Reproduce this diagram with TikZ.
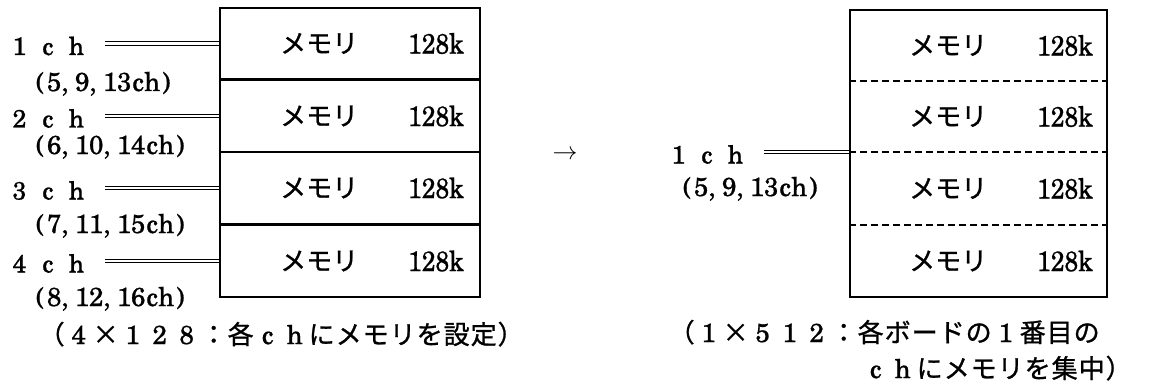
\documentclass[tikz,border=0pt]{standalone}
\usepackage{fontspec}
\usepackage{graphicx}
\newfontfamily\jpf{Noto Sans CJK JP}[FakeBold=1]
\newfontfamily\sch{texgyreschola}[Extension=.otf, UprightFont=*-regular, BoldFont=*-bold, FakeBold=0.8]
\newlength\cw
\newcommand\cL[1]{\makebox[\cw][c]{\sch #1}}
\newcommand\cC[1]{\makebox[\cw][l]{\sch #1}}
\newcommand\cJ[1]{\makebox[\cw][c]{\jpf #1}}
\newcommand\mem{{\jpf メモリ}}
\newcommand\kb{\scalebox{0.88}[1]{\sch 128k}}
\begin{document}
\begin{tikzpicture}[x=1pt,y=-1pt,
  membox/.style={draw, line width=1.4pt, minimum width=260pt, inner sep=0pt},
  dbl/.style={double, double distance=2.2pt, line width=1.2pt},
  sepline/.style={dash pattern=on 7pt off 4pt, line width=1.2pt},
  chlab/.style={anchor=base west, inner sep=0pt, font={\fontsize{25}{25}\selectfont\setlength\cw{28.5pt}}},
  sublab/.style={anchor=base west, inner sep=0pt, font={\fontsize{26}{26}\selectfont\setlength\cw{14pt}}},
  caplab/.style={anchor=base west, inner sep=0pt, font={\fontsize{26}{26}\selectfont\setlength\cw{27pt}}},
  memt/.style={anchor=west, inner sep=0pt, font={\fontsize{26}{26}\selectfont}},
  kbt/.style={anchor=east, inner sep=0pt, font={\fontsize{28}{28}\selectfont}},
]
\useasboundingbox (0,0) rectangle (1153,385);

% ---- left: four boards
\node[membox, minimum height=71pt] (L1) at (350,43.5) {};
\node[membox, minimum height=72pt] (L2) at (350,116) {};
\node[membox, minimum height=71pt] (L3) at (350,188) {};
\node[membox, minimum height=72pt] (L4) at (350,261) {};
\foreach \i/\y in {1/43.5,2/116,3/188,4/261}{
  \node[memt] (Lm\i) at (280,\y) {\mem};
  \node[kbt] (Lk\i) at (464,\y) {\kb};
}

\node[chlab] (c1) at (5,55) {\cL{1}\cL{c}\cL{h}};
\node[chlab] (c2) at (5,127.5) {\cL{2}\cL{c}\cL{h}};
\node[chlab] (c3) at (5,199.5) {\cL{3}\cL{c}\cL{h}};
\node[chlab] (c4) at (5,272.5) {\cL{4}\cL{c}\cL{h}};
\foreach \i in {1,2,3,4}{
  \coordinate (s\i) at ([xshift=14pt]c\i.east);
  \draw[dbl] (s\i |- L\i.west) -- (L\i.west);
}

\node[sublab] (p1) at (33,91) {\cL{(}\cL{5}\cC{,}\cL{9}\cC{,}\cL{1}\cL{3}\cL{c}\cL{h}\cL{)}};
\node[sublab] (p2) at (33,154) {\cL{(}\cL{6}\cC{,}\cL{1}\cL{0}\cC{,}\cL{1}\cL{4}\cL{c}\cL{h}\cL{)}};
\node[sublab] (p3) at (33,233) {\cL{(}\cL{7}\cC{,}\cL{1}\cL{1}\cC{,}\cL{1}\cL{5}\cL{c}\cL{h}\cL{)}};
\node[sublab] (p4) at (33,306) {\cL{(}\cL{8}\cC{,}\cL{1}\cL{2}\cC{,}\cL{1}\cL{6}\cL{c}\cL{h}\cL{)}};

\node[caplab] (capL) at (38,344) {\cJ{（}\cL{4}\cJ{×}\cL{1}\cL{2}\cL{8}\cJ{：}\cJ{各}\cL{c}\cL{h}\cJ{に}\cJ{メ}\cJ{モ}\cJ{リ}\cJ{を}\cJ{設}\cJ{定}\cJ{）}};

% ---- arrow
\node[inner sep=0pt, font={\fontsize{24.88}{30}\selectfont}] (arr) at (565,155) {$\rightarrow$};

% ---- right: one board
\node[draw, line width=1.4pt, minimum width=257pt, minimum height=287pt, inner sep=0pt] (R) at (978.5,153.5) {};
\coordinate (d1) at (0,81);
\coordinate (d2) at (0,152);
\coordinate (d3) at (0,225);
\foreach \d in {d1,d2,d3}{
  \draw[sepline] (R.west |- \d) -- (R.east |- \d);
}
\foreach \i/\y in {1/45.5,2/116.5,3/188.5,4/261}{
  \node[memt] (Rm\i) at (909,\y) {\mem};
  \node[kbt] (Rk\i) at (1093,\y) {\kb};
}
\node[chlab] (rc) at (664,163.5) {\cL{1}\cL{c}\cL{h}};
\coordinate (rs) at ([xshift=14pt]rc.east);
\draw[dbl] (rs |- d2) -- (R.west |- d2);
\node[sublab] (rp) at (680,196) {\cL{(}\cL{5}\cC{,}\cL{9}\cC{,}\cL{1}\cL{3}\cL{c}\cL{h}\cL{)}};

\node[caplab] (capR1) at (668,342) {\cJ{（}\cL{1}\cJ{×}\cL{5}\cL{1}\cL{2}\cJ{：}\cJ{各}\cJ{ボ}\cJ{ー}\cJ{ド}\cJ{の}\cL{1}\cJ{番}\cJ{目}\cJ{の}};
\node[caplab] (capR2) at (862,378) {\cL{c}\cL{h}\cJ{に}\cJ{メ}\cJ{モ}\cJ{リ}\cJ{を}\cJ{集}\cJ{中}\cJ{）}};
\end{tikzpicture}
\end{document}
